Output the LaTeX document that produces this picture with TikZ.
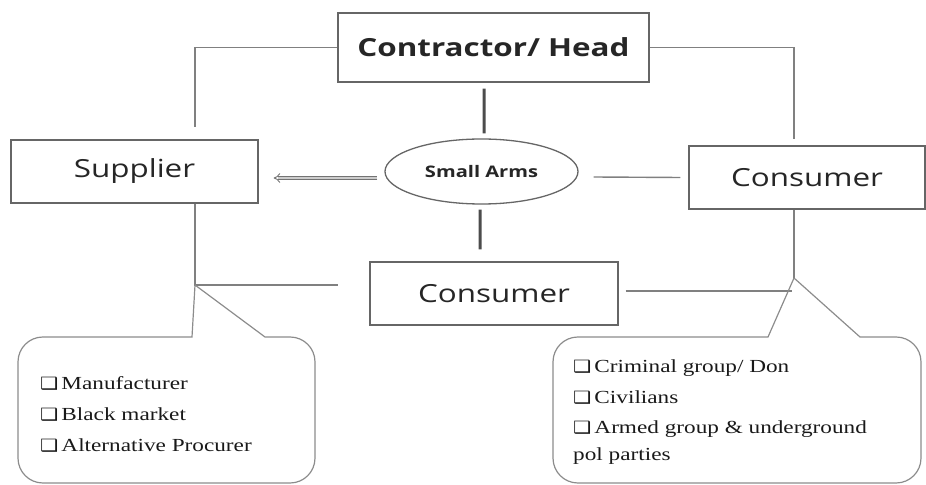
\documentclass[tikz,border=0pt]{standalone}
\usepackage{fontspec}
\setmainfont{Liberation Serif}[FakeStretch=1.26]
\newfontfamily\boxfont{Open Sans}[FakeStretch=1.26]
\newfontfamily\symfont{DejaVu Sans}[FakeStretch=1.2]
\usepackage{tikz}
\usetikzlibrary{arrows.meta,shapes.geometric,calc,positioning}

\tikzset{
  box/.style={draw=black!60, line width=1.3bp, fill=white, inner sep=0pt,
              text=black!85},
  link/.style={draw=black!50, line width=1.4bp},
  heavy/.style={draw=black!70, line width=3bp},
  dbl/.style={draw=black!55, line width=0.9bp, double=black!20,
              double distance=2.4bp, -{Implies}},
  callout/.style={draw=black!45, line width=1.2bp},
  item/.style={anchor=base west, inner sep=0pt, text=black!90,
               font=\fontsize{18.5}{20}\selectfont},
}
\newcommand{\tick}{{\symfont\fontsize{17}{17}\selectfont ❑}\,}

\begin{document}
\begin{tikzpicture}[x=1bp,y=-1bp]
 \useasboundingbox (0,0) rectangle (926,485);
 % main boxes
 \node[box, minimum width=311bp, minimum height=69bp,
       font=\boxfont\bfseries\fontsize{25}{30}\selectfont] (head) at (493.5,47.5) {Contractor/ Head};
 \node[box, minimum width=247bp, minimum height=63bp,
       font=\boxfont\fontsize{25}{30}\selectfont] (supplier) at (134.5,171.5) {Supplier};
 \node[box, ellipse, minimum width=193bp, minimum height=65bp,
       font=\boxfont\bfseries\fontsize{16}{18}\selectfont] (arms) at (481.5,171.5) {Small Arms};
 \node[box, minimum width=236bp, minimum height=63bp,
       font=\boxfont\fontsize{25}{30}\selectfont] (cright) at (807,177.5) {Consumer};
 \node[box, minimum width=248bp, minimum height=63bp,
       font=\boxfont\fontsize{25}{30}\selectfont] (cbot) at (494,293.5) {Consumer};
 \coordinate (lapex) at (195,285);
 \coordinate (rapex) at (794,278);
 % links
 \draw[link] (head.west) -| ($(supplier.north)+(60.5,-12)$);
 \draw[link] (head.east) -| ($(cright.north -| rapex)+(0,-6)$);
 \draw[heavy] ([xshift=-9.5bp,yshift=-6bp]head.south) -- ([xshift=2.5bp,yshift=5bp]arms.north);
 \draw[heavy] ([xshift=-1.5bp,yshift=-5bp]arms.south) -- ([xshift=-14bp,yshift=12bp]cbot.north);
 \draw[dbl] ([xshift=-7bp,yshift=-6.5bp]arms.west) -- ([xshift=15bp,yshift=-6.5bp]supplier.east);
 \draw[link] ([xshift=15bp,yshift=-5.5bp]arms.east) -- ([xshift=-8bp,yshift=0bp]cright.west);
 \draw[link] (supplier.south -| lapex) -- (lapex) -- ++(143,0);
 \draw[link] (cright.south -| rapex) -- (rapex);
 \draw[link] ([xshift=7bp,yshift=2.5bp]cbot.east) -- ++(166,0);
 % callouts
 \draw[callout] (lapex) -- (265,337) [rounded corners=25] -- (315,337) -- (315,483)
   -- (18,483) -- (18,337) [sharp corners] -- (192,337) -- (lapex);
 \draw[callout] (rapex) -- (860,337) [rounded corners=25] -- (921,337) -- (921,483)
   -- (553,483) -- (553,337) [sharp corners] -- (768,337) -- (rapex);
 % lists
 \node[item] (m1) at (40,389) {\tick Manufacturer};
 \node[item] (m2) at (40,420) {\tick Black market};
 \node[item] (m3) at (40,451) {\tick Alternative Procurer};
 \node[item] (c1) at (573,372) {\tick Criminal group/ Don};
 \node[item] (c2) at (573,403) {\tick Civilians};
 \node[item] (c3) at (573,433) {\tick Armed group \& underground};
 \node[item] (c4) at (573,460) {pol parties};
\end{tikzpicture}
\end{document}
